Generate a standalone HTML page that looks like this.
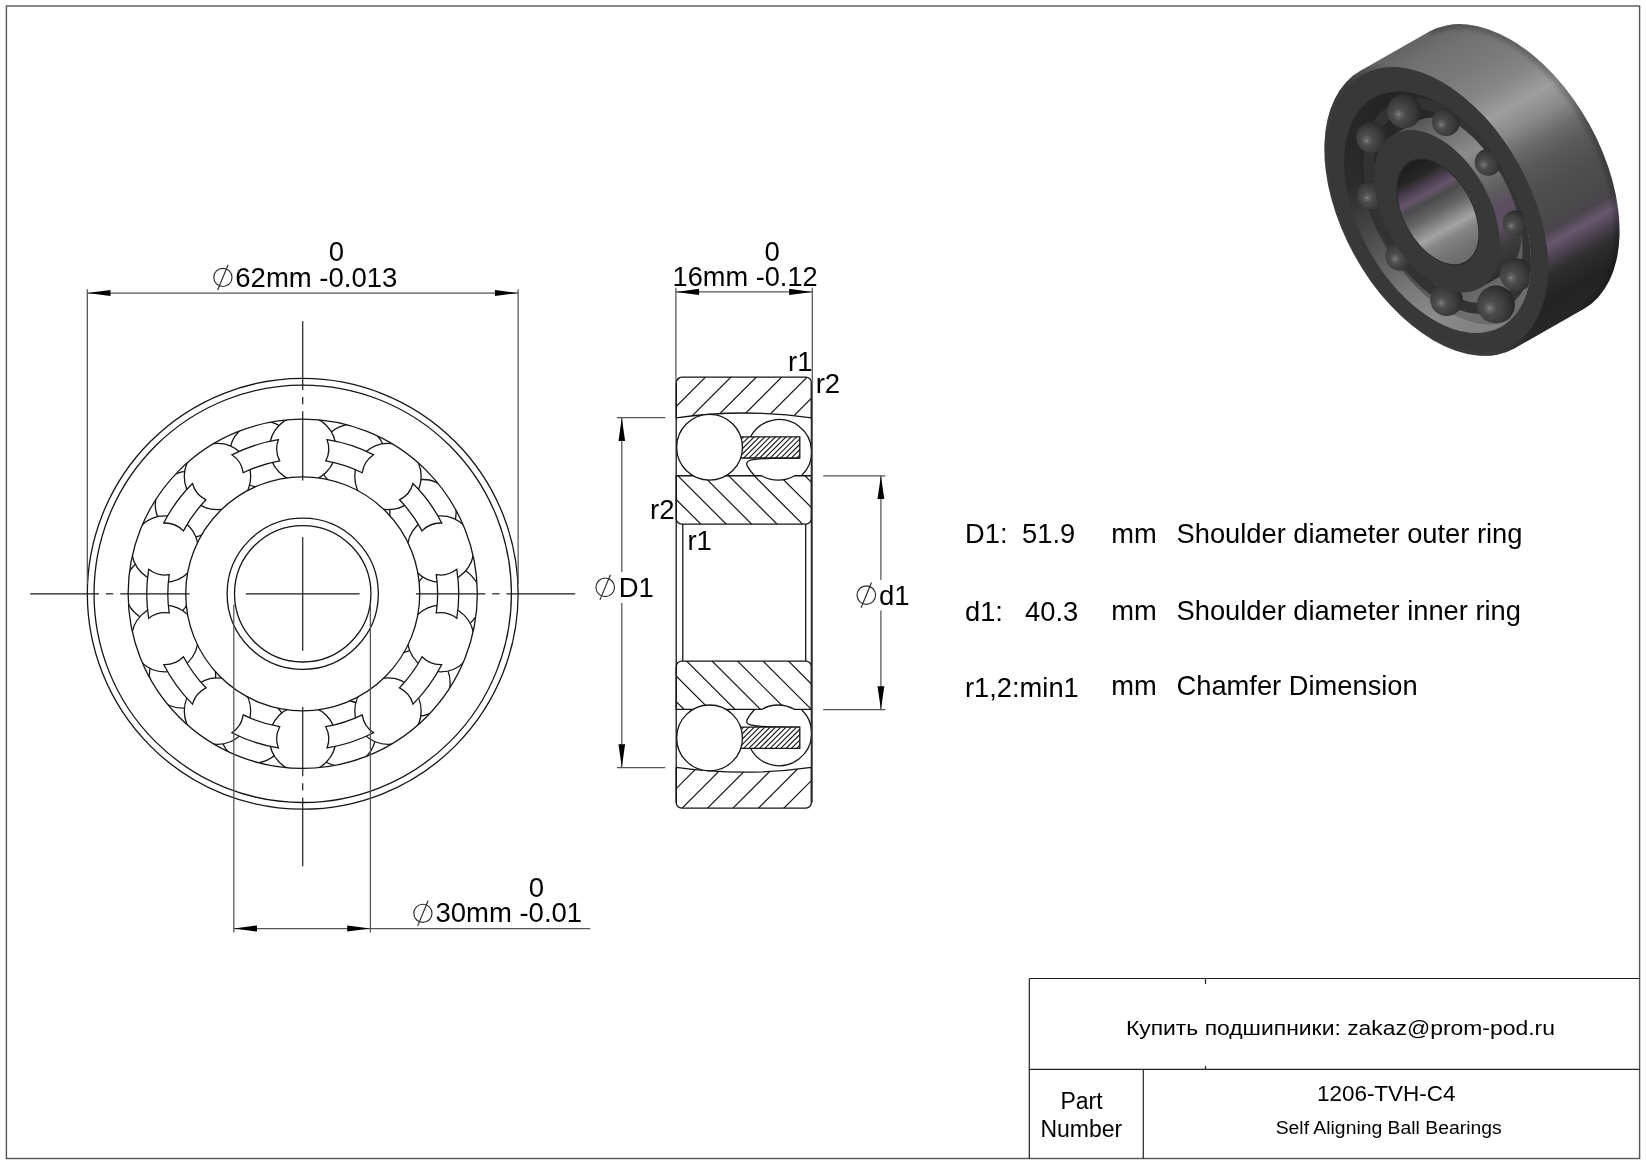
<!DOCTYPE html>
<html><head><meta charset="utf-8"><title>1206-TVH-C4</title>
<style>html,body{margin:0;padding:0;background:#fff;}body{width:1646px;height:1165px;overflow:hidden;font-family:"Liberation Sans",sans-serif;}svg{display:block;will-change:transform}</style>
</head><body>
<svg width="1646" height="1165" viewBox="0 0 1646 1165">
<rect width="1646" height="1165" fill="#fff"/>
<rect x="6.4" y="6.0" width="1633.2" height="1152.5" fill="none" stroke="#555" stroke-width="1.4"/>
<g fill="none" stroke="#151515" stroke-width="1.3">
<circle cx="302.73" cy="593.8" r="215.4"/>
<circle cx="302.73" cy="593.8" r="208.7"/>
</g>
<clipPath id="shc"><circle cx="302.73" cy="593.8" r="174.6"/></clipPath>
<g clip-path="url(#shc)" fill="#fff" stroke="#151515" stroke-width="1.3">
<circle cx="447.64" cy="598.86" r="33.2"/>
<circle cx="422.94" cy="512.72" r="33.2"/>
<circle cx="352.32" cy="457.54" r="33.2"/>
<circle cx="262.76" cy="454.42" r="33.2"/>
<circle cx="188.47" cy="504.53" r="33.2"/>
<circle cx="157.82" cy="588.74" r="33.2"/>
<circle cx="182.52" cy="674.88" r="33.2"/>
<circle cx="253.14" cy="730.06" r="33.2"/>
<circle cx="342.7" cy="733.18" r="33.2"/>
<circle cx="416.99" cy="683.07" r="33.2"/>
<circle cx="440.63" cy="548.99" r="33.2"/>
<circle cx="387.96" cy="476.49" r="33.2"/>
<circle cx="302.73" cy="448.8" r="33.2"/>
<circle cx="217.5" cy="476.49" r="33.2"/>
<circle cx="164.83" cy="548.99" r="33.2"/>
<circle cx="164.83" cy="638.61" r="33.2"/>
<circle cx="217.5" cy="711.11" r="33.2"/>
<circle cx="302.73" cy="738.8" r="33.2"/>
<circle cx="387.96" cy="711.11" r="33.2"/>
<circle cx="440.63" cy="638.61" r="33.2"/>
<path d="M456.8 569.35 A156.0 156.0 0 0 1 456.8 618.25 A26.0 26.0 0 0 0 436.26 612.98 A134.9 134.9 0 0 0 436.26 574.62 A26.0 26.0 0 0 0 456.8 569.35 Z"/>
<path d="M413.01 483.46 A156.0 156.0 0 0 1 441.75 523.02 A26.0 26.0 0 0 0 422.03 530.83 A134.9 134.9 0 0 0 399.49 499.8 A26.0 26.0 0 0 0 413.01 483.46 Z"/>
<path d="M327.09 439.71 A156.0 156.0 0 0 1 373.59 454.82 A26.0 26.0 0 0 0 362.23 472.73 A134.9 134.9 0 0 0 325.75 460.88 A26.0 26.0 0 0 0 327.09 439.71 Z"/>
<path d="M231.87 454.82 A156.0 156.0 0 0 1 278.37 439.71 A26.0 26.0 0 0 0 279.71 460.88 A134.9 134.9 0 0 0 243.23 472.73 A26.0 26.0 0 0 0 231.87 454.82 Z"/>
<path d="M163.71 523.02 A156.0 156.0 0 0 1 192.45 483.46 A26.0 26.0 0 0 0 205.97 499.8 A134.9 134.9 0 0 0 183.43 530.83 A26.0 26.0 0 0 0 163.71 523.02 Z"/>
<path d="M148.66 618.25 A156.0 156.0 0 0 1 148.66 569.35 A26.0 26.0 0 0 0 169.2 574.62 A134.9 134.9 0 0 0 169.2 612.98 A26.0 26.0 0 0 0 148.66 618.25 Z"/>
<path d="M192.45 704.14 A156.0 156.0 0 0 1 163.71 664.58 A26.0 26.0 0 0 0 183.43 656.77 A134.9 134.9 0 0 0 205.97 687.8 A26.0 26.0 0 0 0 192.45 704.14 Z"/>
<path d="M278.37 747.89 A156.0 156.0 0 0 1 231.87 732.78 A26.0 26.0 0 0 0 243.23 714.87 A134.9 134.9 0 0 0 279.71 726.72 A26.0 26.0 0 0 0 278.37 747.89 Z"/>
<path d="M373.59 732.78 A156.0 156.0 0 0 1 327.09 747.89 A26.0 26.0 0 0 0 325.75 726.72 A134.9 134.9 0 0 0 362.23 714.87 A26.0 26.0 0 0 0 373.59 732.78 Z"/>
<path d="M441.75 664.58 A156.0 156.0 0 0 1 413.01 704.14 A26.0 26.0 0 0 0 399.49 687.8 A134.9 134.9 0 0 0 422.03 656.77 A26.0 26.0 0 0 0 441.75 664.58 Z"/>
</g>
<g fill="none" stroke="#151515" stroke-width="1.3">
<circle cx="302.73" cy="593.8" r="174.6"/>
<circle cx="302.73" cy="593.8" r="117.0" fill="#fff"/>
<circle cx="302.73" cy="593.8" r="75.6"/>
<circle cx="302.73" cy="593.8" r="68.2"/>
</g>
<g stroke="#1c1c1c" stroke-width="1.2" fill="none">
<line x1="30.23" y1="593.8" x2="99.03" y2="593.8"/>
<line x1="302.73" y1="321.3" x2="302.73" y2="390.1"/>
<line x1="105.93" y1="593.8" x2="113.23" y2="593.8"/>
<line x1="302.73" y1="397" x2="302.73" y2="404.3"/>
<line x1="120.23" y1="593.8" x2="189.53" y2="593.8"/>
<line x1="302.73" y1="411.3" x2="302.73" y2="480.6"/>
<line x1="245.83" y1="593.8" x2="359.63" y2="593.8"/>
<line x1="302.73" y1="536.9" x2="302.73" y2="650.7"/>
<line x1="415.93" y1="593.8" x2="485.23" y2="593.8"/>
<line x1="302.73" y1="707" x2="302.73" y2="776.3"/>
<line x1="492.23" y1="593.8" x2="499.53" y2="593.8"/>
<line x1="302.73" y1="783.3" x2="302.73" y2="790.6"/>
<line x1="506.43" y1="593.8" x2="575.23" y2="593.8"/>
<line x1="302.73" y1="797.5" x2="302.73" y2="866.3"/>
</g>
<g stroke="#555" stroke-width="1.25" fill="none">
<line x1="87.33" y1="289.3" x2="87.33" y2="584"/>
<line x1="518.13" y1="289.3" x2="518.13" y2="584"/>
<line x1="87.33" y1="293" x2="518.13" y2="293"/>
<line x1="233.8" y1="604.5" x2="233.8" y2="932.4"/>
<line x1="370.4" y1="604.5" x2="370.4" y2="932.4"/>
<line x1="233.8" y1="928.5" x2="590.3" y2="928.5"/>
</g>
<polygon points="87.33,293 110.53,289.9 110.53,296.1" fill="#000" stroke="none"/>
<polygon points="518.13,293 494.93,296.1 494.93,289.9" fill="#000" stroke="none"/>
<polygon points="233.8,928.5 257,925.4 257,931.6" fill="#000" stroke="none"/>
<polygon points="370.4,928.5 347.2,931.6 347.2,925.4" fill="#000" stroke="none"/>
<g font-family="'Liberation Sans', sans-serif" fill="#000">
<g fill="none" stroke="#2a2a2a" stroke-width="1.15"><circle cx="222.9" cy="277.4" r="9.1"/><line x1="217.7" y1="290" x2="228.1" y2="264.8"/></g>
<text x="235.3" y="286.8" font-size="27.5" text-anchor="start" >62mm -0.013</text>
<text x="336.4" y="260.8" font-size="27.5" text-anchor="middle" >0</text>
<g fill="none" stroke="#2a2a2a" stroke-width="1.15"><circle cx="422.9" cy="913.3" r="9.1"/><line x1="417.7" y1="925.9" x2="428.1" y2="900.7"/></g>
<text x="435.4" y="921.5" font-size="27.5" text-anchor="start" >30mm -0.01</text>
<text x="536.4" y="896.7" font-size="27.5" text-anchor="middle" >0</text>
<g>
<clipPath id="gap0"><rect x="676.2" y="411" width="135.2" height="64.75"/></clipPath>
<path d="M750.42 436.9 A32.5 32.5 0 1 1 801.39 475.75" fill="none" stroke="#151515" stroke-width="1.3"/>
<clipPath id="o0"><path d="M676.2 417.8 L676.2 382.7 A5.6 5.6 0 0 1 681.8 377.1 L805.8 377.1 A5.6 5.6 0 0 1 811.4 382.7 L811.4 417.8 A478.42 478.42 0 0 0 676.2 417.8 Z"/></clipPath>
<clipPath id="i0"><path d="M676.2 475.75 L761.6 475.75 A32.81 32.81 0 0 0 794.6 475.75 L811.4 475.75 L811.4 518.5 A5.6 5.6 0 0 1 805.8 524.1 L681.8 524.1 A5.6 5.6 0 0 1 676.2 518.5 Z"/></clipPath>
<clipPath id="c0"><rect x="741.6" y="436.9" width="58.2" height="21.1"/></clipPath>
<g clip-path="url(#o0)" stroke="#151515" stroke-width="1.2"><line x1="646.34" y1="360" x2="576.34" y2="430"/><line x1="671.76" y1="360" x2="601.76" y2="430"/><line x1="697.18" y1="360" x2="627.18" y2="430"/><line x1="722.6" y1="360" x2="652.6" y2="430"/><line x1="748.02" y1="360" x2="678.02" y2="430"/><line x1="773.44" y1="360" x2="703.44" y2="430"/><line x1="798.86" y1="360" x2="728.86" y2="430"/><line x1="824.28" y1="360" x2="754.28" y2="430"/><line x1="849.7" y1="360" x2="779.7" y2="430"/><line x1="875.12" y1="360" x2="805.12" y2="430"/><line x1="900.54" y1="360" x2="830.54" y2="430"/><line x1="925.96" y1="360" x2="855.96" y2="430"/><line x1="951.38" y1="360" x2="881.38" y2="430"/><line x1="976.8" y1="360" x2="906.8" y2="430"/><line x1="1002.22" y1="360" x2="932.22" y2="430"/></g>
<g clip-path="url(#i0)" stroke="#151515" stroke-width="1.2"><line x1="540.02" y1="465" x2="610.02" y2="535"/><line x1="565.44" y1="465" x2="635.44" y2="535"/><line x1="590.86" y1="465" x2="660.86" y2="535"/><line x1="616.28" y1="465" x2="686.28" y2="535"/><line x1="641.7" y1="465" x2="711.7" y2="535"/><line x1="667.12" y1="465" x2="737.12" y2="535"/><line x1="692.54" y1="465" x2="762.54" y2="535"/><line x1="717.96" y1="465" x2="787.96" y2="535"/><line x1="743.38" y1="465" x2="813.38" y2="535"/><line x1="768.8" y1="465" x2="838.8" y2="535"/><line x1="794.22" y1="465" x2="864.22" y2="535"/><line x1="819.64" y1="465" x2="889.64" y2="535"/><line x1="845.06" y1="465" x2="915.06" y2="535"/><line x1="870.48" y1="465" x2="940.48" y2="535"/><line x1="895.9" y1="465" x2="965.9" y2="535"/><line x1="921.32" y1="465" x2="991.32" y2="535"/></g>
<path d="M676.2 417.8 L676.2 382.7 A5.6 5.6 0 0 1 681.8 377.1 L805.8 377.1 A5.6 5.6 0 0 1 811.4 382.7 L811.4 417.8 A478.42 478.42 0 0 0 676.2 417.8 Z" fill="none" stroke="#151515" stroke-width="1.3"/>
<path d="M676.2 475.75 L761.6 475.75 A32.81 32.81 0 0 0 794.6 475.75 L811.4 475.75 L811.4 518.5 A5.6 5.6 0 0 1 805.8 524.1 L681.8 524.1 A5.6 5.6 0 0 1 676.2 518.5 Z" fill="none" stroke="#151515" stroke-width="1.3"/>
<path d="M799.8 458 L772 458.4 C762 458.6 753 459.2 749.5 460.5 C746.3 461.7 746.2 464.2 747.6 466.6 C749.2 469.5 752 473 754.5 475.75" fill="none" stroke="#151515" stroke-width="1.3"/>
<rect x="735.6" y="436.9" width="64.2" height="21.1" fill="#fff" stroke="none"/>
<g clip-path="url(#c0)" stroke="#151515" stroke-width="1.1"><line x1="745.6" y1="434.9" x2="720.5" y2="460"/><line x1="750.9" y1="434.9" x2="725.8" y2="460"/><line x1="756.2" y1="434.9" x2="731.1" y2="460"/><line x1="761.5" y1="434.9" x2="736.4" y2="460"/><line x1="766.8" y1="434.9" x2="741.7" y2="460"/><line x1="772.1" y1="434.9" x2="747" y2="460"/><line x1="777.4" y1="434.9" x2="752.3" y2="460"/><line x1="782.7" y1="434.9" x2="757.6" y2="460"/><line x1="788" y1="434.9" x2="762.9" y2="460"/><line x1="793.3" y1="434.9" x2="768.2" y2="460"/><line x1="798.6" y1="434.9" x2="773.5" y2="460"/><line x1="803.9" y1="434.9" x2="778.8" y2="460"/><line x1="809.2" y1="434.9" x2="784.1" y2="460"/><line x1="814.5" y1="434.9" x2="789.4" y2="460"/><line x1="819.8" y1="434.9" x2="794.7" y2="460"/><line x1="825.1" y1="434.9" x2="800" y2="460"/><line x1="830.4" y1="434.9" x2="805.3" y2="460"/><line x1="835.7" y1="434.9" x2="810.6" y2="460"/></g>
<path d="M738.6 436.9 L799.8 436.9 L799.8 458 L738.6 458" fill="none" stroke="#151515" stroke-width="1.3"/>
<circle cx="709.55" cy="447.3" r="32.9" fill="#fff" stroke="#151515" stroke-width="1.3"/>
<clipPath id="gap1"><rect x="676.2" y="709.45" width="135.2" height="64.75"/></clipPath>
<path d="M750.42 748.3 A32.5 32.5 0 1 0 801.39 709.45" fill="none" stroke="#151515" stroke-width="1.3"/>
<clipPath id="o1"><path d="M676.2 767.4 L676.2 802.5 A5.6 5.6 0 0 0 681.8 808.1 L805.8 808.1 A5.6 5.6 0 0 0 811.4 802.5 L811.4 767.4 A478.42 478.42 0 0 1 676.2 767.4 Z"/></clipPath>
<clipPath id="i1"><path d="M676.2 709.45 L761.6 709.45 A32.81 32.81 0 0 1 794.6 709.45 L811.4 709.45 L811.4 666.7 A5.6 5.6 0 0 0 805.8 661.1 L681.8 661.1 A5.6 5.6 0 0 0 676.2 666.7 Z"/></clipPath>
<clipPath id="c1"><rect x="741.6" y="727.2" width="58.2" height="21.1"/></clipPath>
<g clip-path="url(#o1)" stroke="#151515" stroke-width="1.2"><line x1="658.85" y1="755" x2="588.85" y2="825"/><line x1="684.3" y1="755" x2="614.3" y2="825"/><line x1="709.75" y1="755" x2="639.75" y2="825"/><line x1="735.2" y1="755" x2="665.2" y2="825"/><line x1="760.65" y1="755" x2="690.65" y2="825"/><line x1="786.1" y1="755" x2="716.1" y2="825"/><line x1="811.55" y1="755" x2="741.55" y2="825"/><line x1="837" y1="755" x2="767" y2="825"/><line x1="862.45" y1="755" x2="792.45" y2="825"/><line x1="887.9" y1="755" x2="817.9" y2="825"/><line x1="913.35" y1="755" x2="843.35" y2="825"/><line x1="938.8" y1="755" x2="868.8" y2="825"/><line x1="964.25" y1="755" x2="894.25" y2="825"/><line x1="989.7" y1="755" x2="919.7" y2="825"/><line x1="1015.15" y1="755" x2="945.15" y2="825"/></g>
<g clip-path="url(#i1)" stroke="#151515" stroke-width="1.2"><line x1="573.8" y1="650" x2="643.8" y2="720"/><line x1="599.25" y1="650" x2="669.25" y2="720"/><line x1="624.7" y1="650" x2="694.7" y2="720"/><line x1="650.15" y1="650" x2="720.15" y2="720"/><line x1="675.6" y1="650" x2="745.6" y2="720"/><line x1="701.05" y1="650" x2="771.05" y2="720"/><line x1="726.5" y1="650" x2="796.5" y2="720"/><line x1="751.95" y1="650" x2="821.95" y2="720"/><line x1="777.4" y1="650" x2="847.4" y2="720"/><line x1="802.85" y1="650" x2="872.85" y2="720"/><line x1="828.3" y1="650" x2="898.3" y2="720"/><line x1="853.75" y1="650" x2="923.75" y2="720"/><line x1="879.2" y1="650" x2="949.2" y2="720"/><line x1="904.65" y1="650" x2="974.65" y2="720"/><line x1="930.1" y1="650" x2="1000.1" y2="720"/><line x1="955.55" y1="650" x2="1025.55" y2="720"/></g>
<path d="M676.2 767.4 L676.2 802.5 A5.6 5.6 0 0 0 681.8 808.1 L805.8 808.1 A5.6 5.6 0 0 0 811.4 802.5 L811.4 767.4 A478.42 478.42 0 0 1 676.2 767.4 Z" fill="none" stroke="#151515" stroke-width="1.3"/>
<path d="M676.2 709.45 L761.6 709.45 A32.81 32.81 0 0 1 794.6 709.45 L811.4 709.45 L811.4 666.7 A5.6 5.6 0 0 0 805.8 661.1 L681.8 661.1 A5.6 5.6 0 0 0 676.2 666.7 Z" fill="none" stroke="#151515" stroke-width="1.3"/>
<path d="M799.8 727.2 L772 726.8 C762 726.6 753 726 749.5 724.7 C746.3 723.5 746.2 721 747.6 718.6 C749.2 715.7 752 712.2 754.5 709.45" fill="none" stroke="#151515" stroke-width="1.3"/>
<rect x="735.6" y="727.2" width="64.2" height="21.1" fill="#fff" stroke="none"/>
<g clip-path="url(#c1)" stroke="#151515" stroke-width="1.1"><line x1="745.6" y1="725.2" x2="720.5" y2="750.3"/><line x1="750.9" y1="725.2" x2="725.8" y2="750.3"/><line x1="756.2" y1="725.2" x2="731.1" y2="750.3"/><line x1="761.5" y1="725.2" x2="736.4" y2="750.3"/><line x1="766.8" y1="725.2" x2="741.7" y2="750.3"/><line x1="772.1" y1="725.2" x2="747" y2="750.3"/><line x1="777.4" y1="725.2" x2="752.3" y2="750.3"/><line x1="782.7" y1="725.2" x2="757.6" y2="750.3"/><line x1="788" y1="725.2" x2="762.9" y2="750.3"/><line x1="793.3" y1="725.2" x2="768.2" y2="750.3"/><line x1="798.6" y1="725.2" x2="773.5" y2="750.3"/><line x1="803.9" y1="725.2" x2="778.8" y2="750.3"/><line x1="809.2" y1="725.2" x2="784.1" y2="750.3"/><line x1="814.5" y1="725.2" x2="789.4" y2="750.3"/><line x1="819.8" y1="725.2" x2="794.7" y2="750.3"/><line x1="825.1" y1="725.2" x2="800" y2="750.3"/><line x1="830.4" y1="725.2" x2="805.3" y2="750.3"/><line x1="835.7" y1="725.2" x2="810.6" y2="750.3"/></g>
<path d="M738.6 727.2 L799.8 727.2 L799.8 748.3 L738.6 748.3" fill="none" stroke="#151515" stroke-width="1.3"/>
<circle cx="709.55" cy="737.9" r="32.9" fill="#fff" stroke="#151515" stroke-width="1.3"/>
</g>
<g stroke="#151515" stroke-width="1.3" fill="none">
<line x1="682.8" y1="524.1" x2="682.8" y2="661.1"/>
<line x1="805.7" y1="524.1" x2="805.7" y2="661.1"/>
<line x1="676.2" y1="382.70000000000005" x2="676.2" y2="802.5"/>
<line x1="811.4" y1="382.70000000000005" x2="811.4" y2="802.5"/>
</g>
<g stroke="#555" stroke-width="1.25" fill="none">
<line x1="675.9" y1="287.7" x2="675.9" y2="382.70000000000005"/>
<line x1="812.3" y1="287.7" x2="812.3" y2="802.5"/>
<line x1="675.9" y1="291.9" x2="812.3" y2="291.9"/>
<line x1="617.0" y1="417.7" x2="665.3" y2="417.7"/>
<line x1="617.0" y1="767.5" x2="665.3" y2="767.5"/>
<line x1="621.8" y1="417.7" x2="621.8" y2="572.2"/>
<line x1="621.8" y1="603.1" x2="621.8" y2="767.5"/>
<line x1="823.2" y1="475.75" x2="885.3" y2="475.75"/>
<line x1="823.2" y1="709.5" x2="885.3" y2="709.5"/>
<line x1="880.9" y1="475.75" x2="880.9" y2="580.0"/>
<line x1="880.9" y1="610.6" x2="880.9" y2="709.5"/>
</g>
<polygon points="675.9,291.9 699.1,288.8 699.1,295" fill="#000" stroke="none"/>
<polygon points="812.3,291.9 789.1,295 789.1,288.8" fill="#000" stroke="none"/>
<polygon points="621.8,417.7 625.1,440.9 618.5,440.9" fill="#000" stroke="none"/>
<polygon points="621.8,767.5 618.5,744.3 625.1,744.3" fill="#000" stroke="none"/>
<polygon points="880.9,475.75 884.3,498.95 877.5,498.95" fill="#000" stroke="none"/>
<polygon points="880.9,709.5 877.5,686.3 884.3,686.3" fill="#000" stroke="none"/>
<text x="672.6" y="286.3" font-size="27.2" text-anchor="start" >16mm -0.12</text>
<text x="772.1" y="260.6" font-size="27.5" text-anchor="middle" >0</text>
<text x="788.0" y="370.7" font-size="27.5" text-anchor="start" >r1</text>
<text x="815.7" y="392.8" font-size="27.5" text-anchor="start" >r2</text>
<text x="650.0" y="518.8" font-size="27.5" text-anchor="start" >r2</text>
<text x="687.4" y="550.2" font-size="27.5" text-anchor="start" >r1</text>
<g fill="none" stroke="#2a2a2a" stroke-width="1.15"><circle cx="605.2" cy="587.3" r="9.3"/><line x1="600" y1="599.9" x2="610.4" y2="574.7"/></g>
<text x="618.7" y="596.5" font-size="27.5" text-anchor="start" >D1</text>
<g fill="none" stroke="#2a2a2a" stroke-width="1.15"><circle cx="866.3" cy="595.1" r="9.3"/><line x1="861.1" y1="607.7" x2="871.5" y2="582.5"/></g>
<text x="879.0" y="604.8" font-size="27.5" text-anchor="start" >d1</text>
<text x="965.0" y="543.3" font-size="27.3" text-anchor="start" >D1:</text>
<text x="1022.1" y="543.3" font-size="27.3" text-anchor="start" >51.9</text>
<text x="1111.2" y="543.3" font-size="27.3" text-anchor="start" >mm</text>
<text x="1176.5" y="543.3" font-size="27.3" text-anchor="start" >Shoulder diameter outer ring</text>
<text x="965.0" y="620.8" font-size="27.3" text-anchor="start" >d1:</text>
<text x="1025.1" y="620.8" font-size="27.3" text-anchor="start" >40.3</text>
<text x="1111.2" y="620.2" font-size="27.3" text-anchor="start" >mm</text>
<text x="1176.5" y="620.2" font-size="27.3" text-anchor="start" >Shoulder diameter inner ring</text>
<text x="965.0" y="696.8" font-size="27.3" text-anchor="start" >r1,2:min1</text>
<text x="1111.2" y="695.1" font-size="27.3" text-anchor="start" >mm</text>
<text x="1176.5" y="695.1" font-size="27.3" text-anchor="start" >Chamfer Dimension</text>
<g stroke="#222" stroke-width="1.2" fill="none">
<line x1="1029.3" y1="978.5" x2="1639.6" y2="978.5"/>
<line x1="1029.3" y1="1069.4" x2="1639.6" y2="1069.4"/>
<line x1="1029.3" y1="978.5" x2="1029.3" y2="1158.5"/>
<line x1="1143.3" y1="1069.4" x2="1143.3" y2="1158.5"/>
<line x1="1205.5" y1="978.5" x2="1205.5" y2="984"/>
<line x1="1205.5" y1="1066" x2="1205.5" y2="1069.4"/>
</g>
<text x="1340.4" y="1034.6" font-size="20.5" text-anchor="middle" textLength="429" lengthAdjust="spacingAndGlyphs">Купить подшипники: zakaz@prom-pod.ru</text>
<text x="1081.5" y="1108.9" font-size="23.0" text-anchor="middle" >Part</text>
<text x="1081.3" y="1137.1" font-size="23.0" text-anchor="middle" >Number</text>
<text x="1386.2" y="1101.4" font-size="22.0" text-anchor="middle" textLength="138.5" lengthAdjust="spacingAndGlyphs">1206-TVH-C4</text>
<text x="1388.7" y="1133.8" font-size="18.9" text-anchor="middle" textLength="226" lengthAdjust="spacingAndGlyphs">Self Aligning Ball Bearings</text>
</g>
<defs>
<linearGradient id="gcyl" gradientUnits="userSpaceOnUse" x1="1395.36" y1="50.95" x2="1549.24" y2="328.55"><stop offset="0" stop-color="#646464"/><stop offset="0.06" stop-color="#707070"/><stop offset="0.17" stop-color="#7b7b7b"/><stop offset="0.25" stop-color="#868686"/><stop offset="0.33" stop-color="#9e9e9e"/><stop offset="0.4" stop-color="#898989"/><stop offset="0.46" stop-color="#6c6c6c"/><stop offset="0.52" stop-color="#5a5a5a"/><stop offset="0.6" stop-color="#4f4f4f"/><stop offset="0.69" stop-color="#4a4a4a"/><stop offset="0.73" stop-color="#4a454d"/><stop offset="0.768" stop-color="#69586e"/><stop offset="0.805" stop-color="#4d4352"/><stop offset="0.85" stop-color="#2f2f2f"/><stop offset="0.92" stop-color="#232323"/><stop offset="1" stop-color="#272727"/></linearGradient>
<filter id="fbl" x="-20%" y="-20%" width="140%" height="140%"><feGaussianBlur stdDeviation="2.2"/></filter>
<clipPath id="chull"><path d="M1360.91 70.6 A158.7 94.9 61 0 0 1514.79 348.2 L1583.69 308.9 A158.7 94.9 61 0 0 1429.81 31.3 Z"/></clipPath>
<linearGradient id="gbore" gradientUnits="userSpaceOnUse" x1="1410.41" y1="162.41" x2="1465.39" y2="261.59"><stop offset="0" stop-color="#1c1c1c"/><stop offset="0.14" stop-color="#262626"/><stop offset="0.24" stop-color="#4d4152"/><stop offset="0.31" stop-color="#66546b"/><stop offset="0.38" stop-color="#4c4a4d"/><stop offset="0.5" stop-color="#666"/><stop offset="0.6" stop-color="#8a8a8a"/><stop offset="0.67" stop-color="#a3a3a3"/><stop offset="0.75" stop-color="#858585"/><stop offset="0.88" stop-color="#737373"/><stop offset="1" stop-color="#6b6b6b"/></linearGradient>
<linearGradient id="ggap" gradientUnits="userSpaceOnUse" x1="1373.99" y1="97.72" x2="1501.01" y2="326.88"><stop offset="0" stop-color="#242424"/><stop offset="0.25" stop-color="#2a2a2a"/><stop offset="0.45" stop-color="#323232"/><stop offset="0.6" stop-color="#454545"/><stop offset="0.78" stop-color="#5f5f5f"/><stop offset="0.9" stop-color="#707070"/><stop offset="1" stop-color="#6a6a6a"/></linearGradient>
<linearGradient id="gcres" gradientUnits="userSpaceOnUse" x1="1373.99" y1="97.72" x2="1501.01" y2="326.88"><stop offset="0" stop-color="#262626"/><stop offset="0.25" stop-color="#2c2c2c"/><stop offset="0.42" stop-color="#444"/><stop offset="0.55" stop-color="#5c5c5c"/><stop offset="0.7" stop-color="#787878"/><stop offset="0.84" stop-color="#8b8b8b"/><stop offset="1" stop-color="#808080"/></linearGradient>
<linearGradient id="ginn" gradientUnits="userSpaceOnUse" x1="1394.44" y1="134.13" x2="1479.76" y2="288.07"><stop offset="0" stop-color="#565656"/><stop offset="0.15" stop-color="#737373"/><stop offset="0.3" stop-color="#8c8c8c"/><stop offset="0.42" stop-color="#767676"/><stop offset="0.55" stop-color="#5e5e5e"/><stop offset="0.66" stop-color="#5a4d5f"/><stop offset="0.74" stop-color="#5f5064"/><stop offset="0.86" stop-color="#3c3c3c"/><stop offset="1" stop-color="#2e2e2e"/></linearGradient>
<radialGradient id="gball" cx="0.36" cy="0.58" r="0.62" fx="0.33" fy="0.6"><stop offset="0" stop-color="#868686"/><stop offset="0.1" stop-color="#666"/><stop offset="0.3" stop-color="#4b4b4b"/><stop offset="0.7" stop-color="#3a3a3a"/><stop offset="1" stop-color="#2a2a2a"/></radialGradient>
<linearGradient id="grim" gradientUnits="userSpaceOnUse" x1="1520.85" y1="163.39" x2="1354.85" y2="255.41"><stop offset="0" stop-color="#3b3b3b" stop-opacity="0"/><stop offset="0.36" stop-color="#3b3b3b" stop-opacity="0"/><stop offset="0.6" stop-color="#3b3b3b" stop-opacity="1"/><stop offset="1" stop-color="#3b3b3b" stop-opacity="1"/></linearGradient>
<clipPath id="cgap"><path d="M1501.01 326.88 A131 78.34 61 1 0 1373.99 97.72 A131 78.34 61 1 0 1501.01 326.88 Z" fill="#000" /></clipPath>
</defs>
<path d="M1360.91 70.6 A158.7 94.9 61 0 0 1514.79 348.2 L1583.69 308.9 A158.7 94.9 61 0 0 1429.81 31.3 Z" fill="url(#gcyl)"/>
<g clip-path="url(#chull)"><path d="M1583.69 308.9 A158.7 94.9 61 0 0 1429.81 31.3" fill="none" stroke="#000" stroke-opacity="0.2" stroke-width="10" filter="url(#fbl)"/></g>
<path d="M1514.79 348.2 A158.7 94.9 61 1 0 1360.91 70.6 A158.7 94.9 61 1 0 1514.79 348.2 Z" fill="url(#grim)" />
<path d="M1512.66 344.35 A154.3 92.27 61 1 0 1363.04 74.45 A154.3 92.27 61 1 0 1512.66 344.35 Z" fill="#383838" />
<path d="M1501.01 326.88 A131 78.34 61 1 0 1373.99 97.72 A131 78.34 61 1 0 1501.01 326.88 Z" fill="url(#gcres)" />
<g clip-path="url(#cgap)">
<path d="M1514.47 318.44 A130.34 77.95 61 1 0 1388.09 90.44 A130.34 77.95 61 1 0 1514.47 318.44 Z" fill="url(#ggap)" />
<path d="M1394.44 134.13 A88 52.62 61 0 0 1479.76 288.07 L1501.81 275.49 A88 52.62 61 0 0 1416.48 121.56 Z" fill="url(#ginn)"/>
<path d="M1502.34 303.09 A111 66.38 61 1 0 1394.71 108.93 A111 66.38 61 1 0 1502.34 303.09 Z" fill="none" stroke="#333" stroke-width="11"/>
<circle cx="1404.3" cy="111.2" r="17" fill="url(#gball)"/>
<circle cx="1446" cy="122" r="14" fill="url(#gball)"/>
<circle cx="1488.2" cy="162.2" r="13.5" fill="url(#gball)"/>
<circle cx="1515.6" cy="223.3" r="13" fill="url(#gball)"/>
<circle cx="1516.5" cy="274.8" r="16.5" fill="url(#gball)"/>
<circle cx="1496" cy="304.5" r="19" fill="url(#gball)"/>
<circle cx="1446.6" cy="299.8" r="16.3" fill="url(#gball)"/>
<circle cx="1400" cy="256" r="14.7" fill="url(#gball)"/>
<circle cx="1372" cy="195" r="14.5" fill="url(#gball)"/>
<circle cx="1371.8" cy="137.4" r="15.5" fill="url(#gball)"/>
</g>
<path d="M1479.76 288.07 A88 52.62 61 1 0 1394.44 134.13 A88 52.62 61 1 0 1479.76 288.07 Z" fill="#383838" />
<path d="M1466.07 262.82 A58.1 34.74 61 1 0 1409.73 161.18 A58.1 34.74 61 1 0 1466.07 262.82 Z" fill="#2a2a2a" />
<path d="M1465.39 261.59 A56.7 33.91 61 1 0 1410.41 162.41 A56.7 33.91 61 1 0 1465.39 261.59 Z" fill="url(#gbore)" />
</svg>
</body></html>
